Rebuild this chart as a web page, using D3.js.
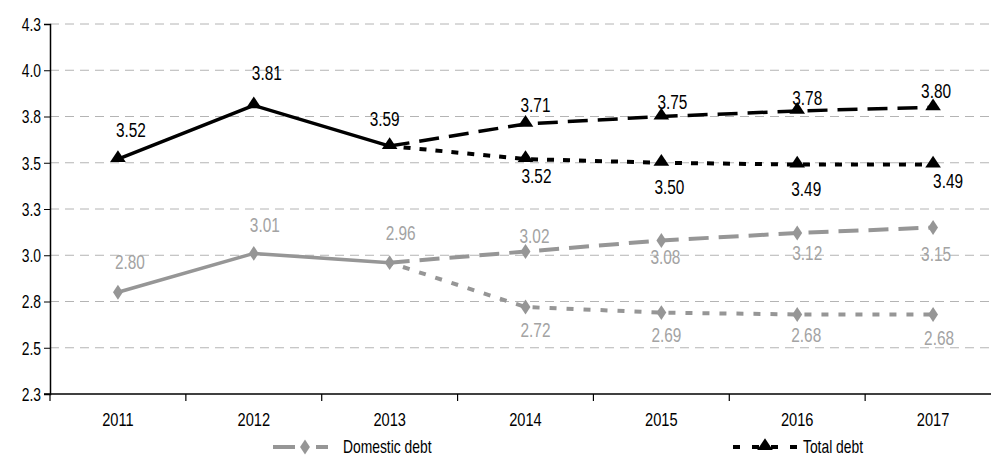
<!DOCTYPE html>
<html>
<head>
<meta charset="utf-8">
<script src="https://cdn.jsdelivr.net/npm/d3@7/dist/d3.min.js"></script>
<style>
  html, body { margin: 0; padding: 0; background: #fff; }
  svg { display: block; }
  text { font-family: "Liberation Sans", Arial, sans-serif; }
</style>
</head>
<body>
<svg id="chart" width="991" height="456"></svg>
<script>
// Years on the category axis
const years = ["2011", "2012", "2013", "2014", "2015", "2016", "2017"];
const projYears = ["2013", "2014", "2015", "2016", "2017"];
const actualYears = ["2011", "2012", "2013"];

// Total debt: outturn, then high and low paths
const totalActual = [3.52, 3.81, 3.59];
const totalHigh = [3.59, 3.71, 3.75, 3.78, 3.80];
const totalLow = [3.59, 3.52, 3.50, 3.49, 3.49];

// Domestic debt: outturn, then high and low paths
const domesticActual = [2.80, 3.01, 2.96];
const domesticHigh = [2.96, 3.02, 3.08, 3.12, 3.15];
const domesticLow = [2.96, 2.72, 2.69, 2.68, 2.68];

// Value-axis ticks and their printed labels
const yTicks = [2.25, 2.5, 2.75, 3.0, 3.25, 3.5, 3.75, 4.0, 4.25];
const yTickLabels = ["2.3", "2.5", "2.8", "3.0", "3.3", "3.5", "3.8", "4.0", "4.3"];

const legendNames = ["Domestic debt", "Total debt"];

const BLACK = "#000";
const GREY = "#969696";
const GREY_TEXT = "#a3a3a3";
const NARROW = 0.77; // horizontal squeeze for a condensed face

const svg = d3.select("#chart");
const margin = { left: 50, top: 24, bottom: 62 };
const plotRight = 1001;
const plotBottom = 456 - margin.bottom;

const x = d3.scaleBand().domain(years).range([margin.left, plotRight]);
const xc = d => x(d) + x.bandwidth() / 2;
const y = d3.scaleLinear().domain([2.25, 4.25]).range([plotBottom, margin.top]);

// Horizontal dashed gridlines
svg.append("g")
  .selectAll("line")
  .data(yTicks.slice(1))
  .join("line")
  .attr("x1", margin.left).attr("x2", 991)
  .attr("y1", d => y(d)).attr("y2", d => y(d))
  .attr("stroke", "#b4b4b4")
  .attr("stroke-width", 1)
  .attr("stroke-dasharray", "9,6");

// Value axis
const yAxis = d3.axisLeft(y)
  .tickValues(yTicks)
  .tickSize(6)
  .tickFormat((d, i) => yTickLabels[i]);
const gy = svg.append("g").attr("transform", `translate(${margin.left},0)`).call(yAxis);
gy.select(".domain").attr("stroke", "#000").attr("stroke-width", 1.5);
gy.selectAll(".tick line").attr("stroke", "#000");
gy.selectAll(".tick text")
  .attr("font-size", 18).attr("fill", "#000")
  .attr("x", 0).attr("dy", "0.35em")
  .attr("transform", `translate(-9,0) scale(${NARROW},1)`);

// Category axis with ticks between bands
const xAxis = d3.axisBottom(x).tickSize(0).tickPadding(0);
const gx = svg.append("g").attr("transform", `translate(0,${plotBottom})`).call(xAxis);
gx.select(".domain").remove();
gx.selectAll(".tick text")
  .attr("font-size", 19).attr("fill", "#000")
  .attr("y", 0).attr("dy", "0.35em")
  .attr("transform", `translate(0,25) scale(${NARROW},1)`);
gx.append("line")
  .attr("x1", margin.left - 6).attr("x2", 991)
  .attr("y1", 0).attr("y2", 0)
  .attr("stroke", "#000").attr("stroke-width", 1.5);
gx.append("g").selectAll("line")
  .data(years)
  .join("line")
  .attr("x1", d => x(d)).attr("x2", d => x(d))
  .attr("y1", 0).attr("y2", 7)
  .attr("stroke", "#000").attr("stroke-width", 1.2);

const line = d3.line().x(d => xc(d[0])).y(d => y(d[1]));

function drawPath(ys, vals, color, width, dash, offset) {
  svg.append("path")
    .datum(ys.map((yr, i) => [yr, vals[i]]))
    .attr("d", line)
    .attr("fill", "none")
    .attr("stroke", color)
    .attr("stroke-width", width)
    .attr("stroke-dasharray", dash)
    .attr("stroke-dashoffset", offset || 0);
}

const triangle = d3.symbol().type(d3.symbolTriangle).size(80);
const diamond = d3.symbol().type(d3.symbolDiamond).size(64);

function drawMarks(ys, vals, sym, color, sy) {
  svg.append("g").selectAll("path")
    .data(ys.map((yr, i) => [yr, vals[i]]))
    .join("path")
    .attr("d", sym)
    .attr("fill", color)
    .attr("transform", d => `translate(${xc(d[0])},${y(d[1]) + (sy || 0)}) scale(1.15,1)`);
}

function drawLabels(ys, vals, color, offs) {
  svg.append("g").selectAll("text")
    .data(ys.map((yr, i) => [yr, vals[i], offs[i]]))
    .join("text")
    .attr("transform", d => `translate(${xc(d[0]) + d[2][0]},${y(d[1]) + d[2][1]}) scale(${NARROW},1)`)
    .attr("text-anchor", "middle")
    .attr("dy", "0.36em")
    .attr("font-size", 20)
    .attr("fill", color)
    .text(d => d[1].toFixed(2));
}

// Domestic debt
drawPath(projYears, domesticLow, GREY, 4, "7,10", -14);
drawPath(projYears, domesticHigh, GREY, 4, "20,10");
drawPath(actualYears, domesticActual, GREY, 3.5, null);
drawMarks(actualYears, domesticActual, diamond, GREY);
drawMarks(projYears.slice(1), domesticHigh.slice(1), diamond, GREY);
drawMarks(projYears.slice(1), domesticLow.slice(1), diamond, GREY);

// Total debt
drawPath(projYears, totalLow, BLACK, 4, "7,9", -14);
drawPath(projYears, totalHigh, BLACK, 3.5, "20,10");
drawPath(actualYears, totalActual, BLACK, 3.4, null);
drawMarks(actualYears, totalActual, triangle, BLACK, -1);
drawMarks(projYears.slice(1), totalHigh.slice(1), triangle, BLACK, -1);
drawMarks(projYears.slice(1), totalLow.slice(1), triangle, BLACK, -1);

// Data labels, nudged off each marker
drawLabels(actualYears, totalActual, BLACK, [[13, -29], [13, -33], [-5, -27]]);
drawLabels(projYears.slice(1), totalHigh.slice(1), BLACK, [[10, -19], [11, -15], [10, -13], [3, -16]]);
drawLabels(projYears.slice(1), totalLow.slice(1), BLACK, [[11, 17], [8, 24], [9, 24], [15, 16]]);
drawLabels(actualYears, domesticActual, GREY_TEXT, [[12, -30], [11, -29], [11, -30]]);
drawLabels(projYears.slice(1), domesticHigh.slice(1), GREY_TEXT, [[9, -16], [4, 16], [10, 20], [3, 26]]);
drawLabels(projYears.slice(1), domesticLow.slice(1), GREY_TEXT, [[10, 23], [5, 22], [9, 20], [6, 23]]);

// Legend
const legendY = 447;
const lg1 = svg.append("g");
lg1.append("line").attr("x1", 273).attr("x2", 338).attr("y1", legendY).attr("y2", legendY)
  .attr("stroke", GREY).attr("stroke-width", 4).attr("stroke-dasharray", "22,10,1,10,12");
lg1.append("path").attr("d", diamond).attr("fill", GREY)
  .attr("transform", `translate(305,${legendY}) scale(1.15,1)`);
lg1.append("text")
  .attr("transform", `translate(343,${legendY}) scale(${NARROW},1)`)
  .attr("dy", "0.36em")
  .attr("font-size", 18).attr("fill", "#000").text(legendNames[0]);

const lg2 = svg.append("g");
lg2.append("line").attr("x1", 733).attr("x2", 797).attr("y1", legendY).attr("y2", legendY)
  .attr("stroke", BLACK).attr("stroke-width", 4).attr("stroke-dasharray", "7,12");
lg2.append("path").attr("d", triangle).attr("fill", BLACK)
  .attr("transform", `translate(765,${legendY - 1}) scale(1.15,1)`);
lg2.append("text")
  .attr("transform", `translate(803,${legendY}) scale(${NARROW},1)`)
  .attr("dy", "0.36em")
  .attr("font-size", 18).attr("fill", "#000").text(legendNames[1]);
</script>
</body>
</html>
